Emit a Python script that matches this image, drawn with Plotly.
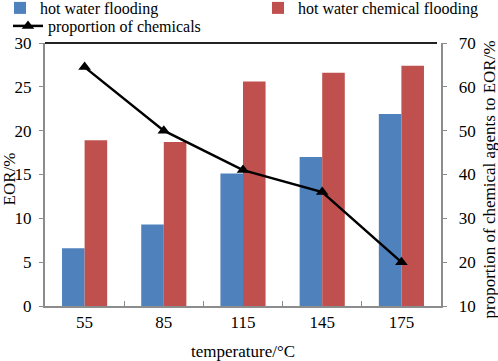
import plotly.graph_objects as go

temperatures = ["55", "85", "115", "145", "175"]
hot_water = [6.6, 9.3, 15.1, 17.0, 21.9]
hot_water_chem = [18.9, 18.7, 25.6, 26.6, 27.4]
proportion = [64.5, 50.0, 41.0, 36.0, 20.0]

x_title = "temperature/°C"
y_title = "EOR/%"
y2_title = "proportion of chemical agents to EOR/%"

FONT = "Times New Roman, Liberation Serif, DejaVu Serif, serif"
FS = 17
W, H = 498, 361

fig = go.Figure()
fig.add_trace(go.Bar(x=temperatures, y=hot_water, name="hot water flooding",
                     marker=dict(color="#4F81BD", line=dict(width=0)), legend="legend"))
fig.add_trace(go.Bar(x=temperatures, y=hot_water_chem, name="hot water chemical flooding",
                     marker=dict(color="#C0504D", line=dict(width=0)), legend="legend2"))
fig.add_trace(go.Scatter(x=temperatures, y=proportion, name="proportion of chemicals",
                         yaxis="y2", mode="lines+markers", legend="legend3",
                         line=dict(color="black", width=2.5),
                         marker=dict(symbol="triangle-up", size=11, color="black")))

def leg(x_text, y_center):
    return dict(xref="container", yref="container",
                x=max(0, (x_text - 40) / W), y=1 - y_center / H, xanchor="left", yanchor="middle",
                font=dict(family=FONT, size=16), itemwidth=30,
                bgcolor="rgba(0,0,0,0)")

def title_ann(text, x, y, xshift, yshift, angle):
    return dict(text=text, xref="paper", yref="paper", x=x, y=y, xshift=xshift, yshift=yshift,
                xanchor="center", yanchor="middle", textangle=angle, showarrow=False,
                font=dict(family=FONT, size=FS, color="black"))

fig.update_layout(
    width=W, height=H,
    margin=dict(l=45, r=57, t=43, b=55, autoexpand=False),
    paper_bgcolor="white", plot_bgcolor="white",
    font=dict(family=FONT, size=FS, color="black"),
    barmode="group", bargap=0.43, bargroupgap=0,
    showlegend=True,
    legend=leg(40, 8),
    legend2=leg(298, 8),
    legend3=leg(48, 26),
    xaxis=dict(showline=True, linecolor="#8c8c8c", linewidth=1.5, mirror=False,
               ticks="inside", ticklen=5, tickcolor="#8c8c8c", tickson="boundaries",
               showgrid=False, tickfont=dict(family=FONT, size=FS)),
    yaxis=dict(range=[0, 30], dtick=5, showline=True, linecolor="#8c8c8c", linewidth=1.5,
               ticks="outside", ticklen=4, tickcolor="#8c8c8c", showgrid=False,
               ticksuffix="\u00a0",
               zeroline=False, tickfont=dict(family=FONT, size=FS)),
    yaxis2=dict(overlaying="y", side="right", range=[10, 70], dtick=10,
                showline=True, linecolor="#8c8c8c", linewidth=1.5,
                ticks="outside", ticklen=4, tickcolor="#8c8c8c", showgrid=False,
                tickprefix="\u00a0\u00a0",
                zeroline=False, tickfont=dict(family=FONT, size=FS)),
    annotations=[
        title_ann(x_title, 0.5, 0, 0, -45, 0),
        title_ann(y_title, 0, 0.5, -36, -5, -90),
        title_ann(y2_title, 1, 0.5, 48, -5, -90),
    ],
    shapes=[dict(type="line", xref="paper", yref="paper", x0=0, x1=0.99, y0=1, y1=1,
                 line=dict(color="#222222", width=2))],
)

fig.write_html("out.html", config={"displayModeBar": False},
               post_script="document.body.style.margin='0';document.body.style.overflow='hidden';")
